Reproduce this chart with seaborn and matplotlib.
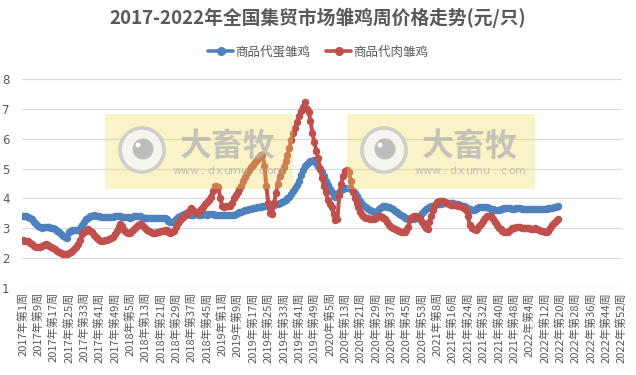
import numpy as np
import pandas as pd
import matplotlib
matplotlib.use("Agg")
import matplotlib.pyplot as plt
import seaborn as sns
from matplotlib.lines import Line2D
from matplotlib.patches import Rectangle, Ellipse

# ---------------- data ----------------
years = [2017, 2018, 2019, 2020, 2021, 2022]
weeks_per_year = [52, 52, 52, 53, 52, 52]
categories = [f"{y}年第{w}周" for y, n in zip(years, weeks_per_year) for w in range(1, n + 1)]

series_names = ["商品代蛋雏鸡", "商品代肉雏鸡"]

egg_chick = [
    3.42, 3.41, 3.40, 3.39, 3.36, 3.30, 3.22, 3.15, 3.09, 3.04,
    3.02, 3.03, 3.04, 3.05, 3.03, 3.02, 3.00, 2.97, 2.92, 2.86,
    2.80, 2.74, 2.70, 2.68, 2.88, 2.92, 2.93, 2.93, 2.94, 2.95,
    3.00, 3.10, 3.22, 3.30, 3.36, 3.40, 3.42, 3.43, 3.42, 3.40,
    3.40, 3.38, 3.38, 3.37, 3.37, 3.38, 3.38, 3.39, 3.40, 3.41,
    3.40, 3.40, 3.39, 3.38, 3.38, 3.37, 3.36, 3.38, 3.40, 3.42,
    3.42, 3.40, 3.37, 3.35, 3.34, 3.33, 3.33, 3.33, 3.34, 3.34,
    3.33, 3.34, 3.35, 3.36, 3.34, 3.30, 3.26, 3.22, 3.20, 3.24,
    3.32, 3.38, 3.42, 3.46, 3.48, 3.50, 3.48, 3.47, 3.46, 3.46,
    3.47, 3.47, 3.46, 3.46, 3.47, 3.47, 3.46, 3.47, 3.48, 3.47,
    3.46, 3.45, 3.45, 3.44, 3.44, 3.45, 3.45, 3.44, 3.44, 3.45,
    3.46, 3.47, 3.50, 3.53, 3.56, 3.58, 3.60, 3.62, 3.64, 3.66,
    3.68, 3.69, 3.70, 3.71, 3.72, 3.74, 3.76, 3.76, 3.75, 3.74,
    3.75, 3.78, 3.80, 3.83, 3.86, 3.88, 3.91, 3.95, 4.00, 4.05,
    4.15, 4.25, 4.35, 4.45, 4.60, 4.80, 4.95, 5.08, 5.16, 5.22,
    5.25, 5.27, 5.28, 5.20, 5.10, 5.00, 4.88, 4.75, 4.58, 4.45,
    4.32, 4.20, 4.10, 4.04, 4.12, 4.20, 4.27, 4.31, 4.34, 4.35,
    4.34, 4.31, 4.26, 4.18, 4.08, 3.98, 3.90, 3.82, 3.75, 3.70,
    3.66, 3.62, 3.57, 3.54, 3.56, 3.62, 3.68, 3.72, 3.74, 3.73,
    3.72, 3.70, 3.67, 3.63, 3.58, 3.53, 3.48, 3.44, 3.40, 3.36,
    3.33, 3.32, 3.31, 3.31, 3.32, 3.34, 3.37, 3.42, 3.50, 3.58,
    3.63, 3.68, 3.72, 3.74, 3.76, 3.78, 3.80, 3.82, 3.83, 3.84,
    3.84, 3.84, 3.85, 3.84, 3.84, 3.83, 3.82, 3.80, 3.78, 3.76,
    3.74, 3.70, 3.66, 3.64, 3.62, 3.62, 3.64, 3.68, 3.70, 3.71,
    3.72, 3.71, 3.70, 3.68, 3.66, 3.64, 3.62, 3.61, 3.62, 3.64,
    3.66, 3.67, 3.68, 3.68, 3.67, 3.66, 3.66, 3.67, 3.68, 3.67,
    3.66, 3.65, 3.65, 3.66, 3.66, 3.65, 3.64, 3.64, 3.65, 3.66,
    3.66, 3.65, 3.65, 3.66, 3.67, 3.67, 3.68, 3.70, 3.72, 3.74,
]

broiler_chick = [
    2.60, 2.58, 2.57, 2.56, 2.52, 2.46, 2.40, 2.37, 2.36, 2.37,
    2.40, 2.45, 2.48, 2.45, 2.40, 2.37, 2.34, 2.30, 2.25, 2.20,
    2.17, 2.15, 2.14, 2.15, 2.18, 2.20, 2.24, 2.30, 2.38, 2.48,
    2.62, 2.80, 2.88, 2.92, 2.96, 2.92, 2.86, 2.78, 2.72, 2.66,
    2.62, 2.58, 2.58, 2.60, 2.62, 2.64, 2.68, 2.72, 2.80, 2.92,
    3.05, 3.15, 3.08, 2.95, 2.88, 2.84, 2.85, 2.90, 2.96, 3.04,
    3.10, 3.14, 3.12, 3.06, 3.00, 2.95, 2.90, 2.86, 2.84, 2.84,
    2.86, 2.88, 2.90, 2.92, 2.94, 2.93, 2.88, 2.84, 2.86, 2.92,
    3.05, 3.18, 3.28, 3.34, 3.40, 3.46, 3.54, 3.62, 3.67, 3.62,
    3.55, 3.50, 3.55, 3.64, 3.72, 3.80, 3.88, 3.96, 4.06, 4.25,
    4.40, 4.40, 4.38, 4.02, 3.76, 3.72, 3.74, 3.76, 3.75, 3.85,
    4.00, 4.12, 4.22, 4.30, 4.42, 4.58, 4.72, 4.84, 4.94, 5.04,
    5.12, 5.22, 5.30, 5.38, 5.44, 5.47, 5.10, 4.40, 3.85, 3.52,
    3.48, 3.84, 4.18, 4.50, 4.75, 4.92, 5.05, 5.25, 5.45, 5.70,
    5.95, 6.18, 6.35, 6.55, 6.75, 6.92, 7.05, 7.22, 7.00, 6.90,
    6.60, 6.20, 5.90, 5.60, 5.35, 5.00, 4.70, 4.40, 4.20, 3.95,
    3.80, 3.70, 3.48, 3.27, 3.30, 4.10, 4.50, 4.75, 4.92, 4.95,
    4.88, 4.60, 4.20, 4.00, 3.84, 3.70, 3.55, 3.45, 3.38, 3.34,
    3.34, 3.32, 3.30, 3.32, 3.36, 3.40, 3.40, 3.38, 3.36, 3.32,
    3.22, 3.12, 3.05, 3.00, 2.96, 2.94, 2.90, 2.88, 2.87, 2.88,
    2.94, 3.05, 3.30, 3.38, 3.40, 3.40, 3.38, 3.32, 3.20, 3.10,
    3.02, 2.98, 3.20, 3.42, 3.62, 3.78, 3.88, 3.92, 3.93, 3.92,
    3.88, 3.84, 3.80, 3.78, 3.78, 3.78, 3.77, 3.76, 3.74, 3.72,
    3.68, 3.62, 3.40, 3.10, 3.02, 2.98, 2.94, 2.96, 3.06, 3.15,
    3.25, 3.34, 3.40, 3.42, 3.40, 3.32, 3.20, 3.10, 3.02, 2.96,
    2.92, 2.88, 2.86, 2.88, 2.95, 3.00, 3.02, 3.04, 3.04, 3.03,
    3.01, 3.00, 3.00, 3.01, 3.00, 2.98, 2.99, 3.00, 2.97, 2.94,
    2.92, 2.90, 2.88, 2.88, 2.92, 3.00, 3.10, 3.18, 3.25, 3.30,
]

title = "2017-2022年全国集贸市场雏鸡周价格走势(元/只)"
y_ticks = [1, 2, 3, 4, 5, 6, 7, 8]
tick_step = 8
colors = ["#4F81BD", "#C0504D"]

# ---------------- style ----------------
sns.set_theme(style="white")
plt.rcParams['font.family'] = ['Noto Sans CJK SC', 'DejaVu Sans']
TXT = "#595959"

W, H = 636, 375
fig = plt.figure(figsize=(W / 100, H / 100), dpi=100)
ax = fig.add_axes([22 / W, 1 - 288 / H, 600 / W, 209 / H])

n = len(egg_chick)
df = pd.DataFrame({
    "week": categories[:n] * 2,
    "pos": list(range(n)) * 2,
    "value": egg_chick + broiler_chick,
    "series": [series_names[0]] * n + [series_names[1]] * n,
})

sns.lineplot(data=df, x="pos", y="value", hue="series", hue_order=series_names,
             palette=colors, marker="o", markersize=5.4, markeredgewidth=0,
             linewidth=2.9, ax=ax, legend=False, sort=False)

ax.set_xlim(-0.3, len(categories) - 1 + 0.3)
ax.set_ylim(1, 8)
ax.set_yticks(y_ticks)
ax.set_yticklabels([str(v) for v in y_ticks])
xt = list(range(0, len(categories), tick_step))
ax.set_xticks(xt)
ax.set_xticklabels([categories[i] for i in xt], rotation=90)
ax.set_xlabel("")
ax.set_ylabel("")
ax.yaxis.grid(True, color="#D9D9D9", linewidth=0.9)
ax.xaxis.grid(False)
for s in ax.spines.values():
    s.set_visible(False)
ax.tick_params(axis="y", length=0, pad=9, labelsize=8.5, labelcolor=TXT)
ax.tick_params(axis="x", length=0, pad=3, labelsize=8, labelcolor=TXT)
for lab in ax.get_yticklabels():
    lab.set_family("DejaVu Sans")

fig.text(0.5, 1 - 18 / H, title, ha="center", va="center", fontsize=13.5,
         fontweight="bold", color=TXT)

handles = [Line2D([0], [0], color=c, lw=2.6, marker="o", markersize=5.5) for c in colors]
leg = fig.legend(handles, series_names, loc="center", bbox_to_anchor=(0.5, 1 - 52 / H),
                 ncol=2, frameon=False, fontsize=9, handlelength=2.0,
                 columnspacing=1.3, handletextpad=0.15)
for t in leg.get_texts():
    t.set_color(TXT)


# ---------------- watermark ----------------
def watermark(left):
    top, bottom = 114, 189
    fig.add_artist(Rectangle((left / W, 1 - bottom / H), 188 / W, (bottom - top) / H,
                             transform=fig.transFigure, facecolor="#EEDD55",
                             alpha=0.33, edgecolor="none", zorder=5))
    cx, cy = left + 37, 150
    fig.add_artist(Ellipse((cx / W, 1 - cy / H), 44 / W, 44 / H, transform=fig.transFigure,
                           facecolor="#F6F6F4", edgecolor="#C8C8C8", lw=2.6, alpha=0.85,
                           zorder=6))
    fig.add_artist(Ellipse(((cx + 1) / W, 1 - (cy - 1) / H), 21 / W, 21 / H,
                           transform=fig.transFigure, facecolor="#BABABA",
                           edgecolor="none", alpha=0.95, zorder=6))
    fig.add_artist(Ellipse(((cx - 4) / W, 1 - (cy - 5) / H), 5 / W, 5 / H,
                           transform=fig.transFigure, facecolor="white",
                           edgecolor="none", zorder=7))
    fig.text((left + 123) / W, 1 - 147 / H, "大畜牧", ha="center", va="center",
             fontsize=23, fontweight="bold", color="#B4B4B4", alpha=0.75, zorder=6)
    url = "www.dxumu.com"
    x0, x1 = left + 72, left + 173
    step = (x1 - x0) / (len(url) - 1)
    for k, ch in enumerate(url):
        fig.text((x0 + k * step) / W, 1 - 171 / H, ch, ha="center", va="center",
                 fontsize=8, color="#B4B4B4", alpha=0.8, zorder=6,
                 family="DejaVu Sans")


watermark(105)
watermark(347)

fig.savefig("out.png", dpi=100)
